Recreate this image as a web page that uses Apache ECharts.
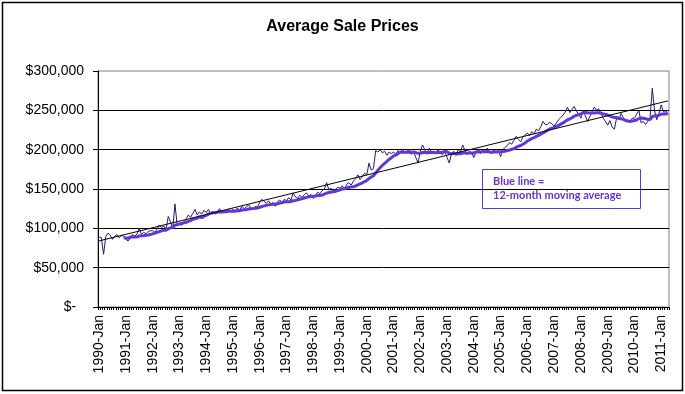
<!DOCTYPE html>
<html>
<head>
<meta charset="utf-8">
<script src="https://cdn.jsdelivr.net/npm/echarts@6/dist/echarts.min.js"></script>
<style>
html,body{margin:0;padding:0;background:#fff;}
#chart{width:685px;height:394px;}
</style>
</head>
<body>
<div id="chart"></div>
<script>
// ---- data ----
const titleText = 'Average Sale Prices';
const monthNames = ['Jan','Feb','Mar','Apr','May','Jun','Jul','Aug','Sep','Oct','Nov','Dec'];
const startYear = 1990;
const monthCount = 256; // 1990-Jan .. 2011-Apr

const prices1990 = [89000, 88000, 67000, 90000, 94000, 91000, 86000, 90000, 92000, 88000, 91000, 90000];
const prices1991 = [86000, 84000, 87000, 92000, 90000, 93000, 100000, 92000, 95000, 93000, 96000, 97000];
const prices1992 = [97000, 95000, 99000, 104000, 101000, 103000, 99000, 115000, 108000, 100000, 131000, 104000];
const prices1993 = [106000, 104000, 108000, 112000, 117000, 114000, 119000, 124000, 117000, 121000, 118000, 123000];
const prices1994 = [120000, 124000, 119000, 122000, 118000, 121000, 125000, 120000, 123000, 121000, 124000, 122000];
const prices1995 = [124000, 122000, 126000, 123000, 128000, 125000, 127000, 130000, 126000, 124000, 128000, 127000];
const prices1996 = [133000, 137000, 134000, 132000, 135000, 130000, 133000, 128000, 134000, 136000, 133000, 137000];
const prices1997 = [135000, 139000, 136000, 145000, 140000, 138000, 142000, 139000, 143000, 145000, 141000, 143000];
const prices1998 = [138000, 142000, 146000, 144000, 148000, 150000, 158000, 149000, 151000, 147000, 150000, 152000];
const prices1999 = [151000, 154000, 150000, 156000, 158000, 155000, 160000, 163000, 168000, 162000, 166000, 170000];
const prices2000 = [168000, 183000, 174000, 176000, 199000, 197000, 200000, 196000, 198000, 193000, 197000, 195000];
const prices2001 = [197000, 194000, 199000, 196000, 201000, 195000, 198000, 200000, 194000, 197000, 190000, 183000];
const prices2002 = [198000, 206000, 200000, 194000, 202000, 197000, 196000, 195000, 200000, 195000, 194000, 198000];
const prices2003 = [190000, 183000, 195000, 198000, 193000, 200000, 197000, 206000, 199000, 194000, 198000, 196000];
const prices2004 = [190000, 197000, 201000, 195000, 199000, 196000, 202000, 198000, 195000, 200000, 197000, 199000];
const prices2005 = [191000, 200000, 203000, 205000, 209000, 207000, 212000, 217000, 213000, 210000, 216000, 219000];
const prices2006 = [221000, 218000, 223000, 220000, 226000, 224000, 229000, 236000, 232000, 232000, 235000, 233000];
const prices2007 = [230000, 234000, 238000, 241000, 244000, 248000, 254000, 247000, 251000, 255000, 249000, 245000];
const prices2008 = [240000, 250000, 243000, 236000, 242000, 248000, 254000, 250000, 252000, 246000, 240000, 236000];
const prices2009 = [231000, 237000, 229000, 226000, 240000, 238000, 246000, 241000, 236000, 238000, 234000, 240000];
const prices2010 = [240000, 245000, 250000, 234000, 236000, 232000, 236000, 240000, 278000, 250000, 238000, 246000];
const prices2011 = [257000, 248000, 248000, 250000];

// linear trend line end values
const trendEnds = [84000, 262000];

const yMin = 0, yMax = 300000, yInterval = 50000;
const maWindow = 12;
const noteLines = ['Blue line =', '12-month moving average'];

// ---- build ----
const prices = [].concat(prices1990, prices1991, prices1992, prices1993, prices1994, prices1995,
  prices1996, prices1997, prices1998, prices1999, prices2000, prices2001, prices2002, prices2003,
  prices2004, prices2005, prices2006, prices2007, prices2008, prices2009, prices2010, prices2011);

const categories = [];
for (let i = 0; i < monthCount; i++) {
  categories.push((startYear + Math.floor(i / 12)) + '-' + monthNames[i % 12]);
}

const movingAvg = prices.map((v, i) => {
  if (i < maWindow - 1) return null;
  let s = 0;
  for (let k = i - maWindow + 1; k <= i; k++) s += prices[k];
  return s / maWindow;
});

const trendData = prices.map(() => null);
trendData[0] = trendEnds[0];
trendData[trendData.length - 1] = trendEnds[1];

const font = '"Liberation Sans", Arial, sans-serif';

const chart = echarts.init(document.getElementById('chart'), null, {renderer: 'canvas'});
chart.setOption({
  animation: false,
  backgroundColor: '#ffffff',
  title: {
    text: titleText,
    left: 'center',
    top: 14,
    textStyle: {fontFamily: font, fontSize: 16, fontWeight: 'bold', color: '#000'}
  },
  grid: {
    left: 98, right: 16, top: 71, bottom: 87,
    show: true, borderColor: '#808080', borderWidth: 1
  },
  xAxis: {
    type: 'category',
    data: categories,
    boundaryGap: true,
    axisLine: {lineStyle: {color: '#000', width: 1}},
    axisTick: {show: true, interval: 0, length: 3, lineStyle: {color: '#000'}},
    axisLabel: {
      interval: 11, rotate: 90, margin: 8,
      fontFamily: font, fontSize: 14, color: '#000'
    },
    splitLine: {show: false}
  },
  yAxis: {
    type: 'value',
    min: yMin, max: yMax, interval: yInterval,
    axisLine: {show: true, lineStyle: {color: '#000', width: 1}},
    axisTick: {show: true, length: 5, lineStyle: {color: '#000'}},
    axisLabel: {
      margin: 14, fontFamily: font, fontSize: 14, color: '#000',
      formatter: function (v) {
        if (v === 0) return '$-  ';
        return '$' + v.toString().replace(/\B(?=(\d{3})+(?!\d))/g, ',');
      }
    },
    splitLine: {show: true, showMaxLine: false, lineStyle: {color: '#000', width: 1}}
  },
  series: [
    {
      name: 'Average Sale Price', type: 'line', data: prices,
      symbol: 'none', lineStyle: {color: '#1c1c80', width: 1}, z: 2
    },
    {
      name: '12-month moving average', type: 'line', data: movingAvg,
      symbol: 'none', lineStyle: {color: '#6236d8', width: 3}, z: 3
    },
    {
      name: 'Linear trend', type: 'line', data: trendData, connectNulls: true,
      symbol: 'none', lineStyle: {color: '#000', width: 1}, z: 4
    }
  ],
  graphic: [
    {
      type: 'rect', silent: true, z: 0,
      shape: {x: 2.5, y: 2.5, width: 680, height: 388},
      style: {fill: 'none', stroke: '#000', lineWidth: 1.5}
    },
    {
      type: 'group', z: 10,
      children: [
        {
          type: 'rect',
          shape: {x: 482.5, y: 169.5, width: 158, height: 39},
          style: {fill: '#fff', stroke: '#6633cc', lineWidth: 1}
        },
        {
          type: 'text', x: 493, y: 181,
          style: {text: noteLines[0], fill: '#6633cc', font: 'bold 11px Lato, sans-serif', verticalAlign: 'middle'}
        },
        {
          type: 'text', x: 493, y: 195,
          style: {text: noteLines[1], fill: '#6633cc', font: 'bold 11px Lato, sans-serif', verticalAlign: 'middle'}
        }
      ]
    }
  ]
});
</script>
</body>
</html>
